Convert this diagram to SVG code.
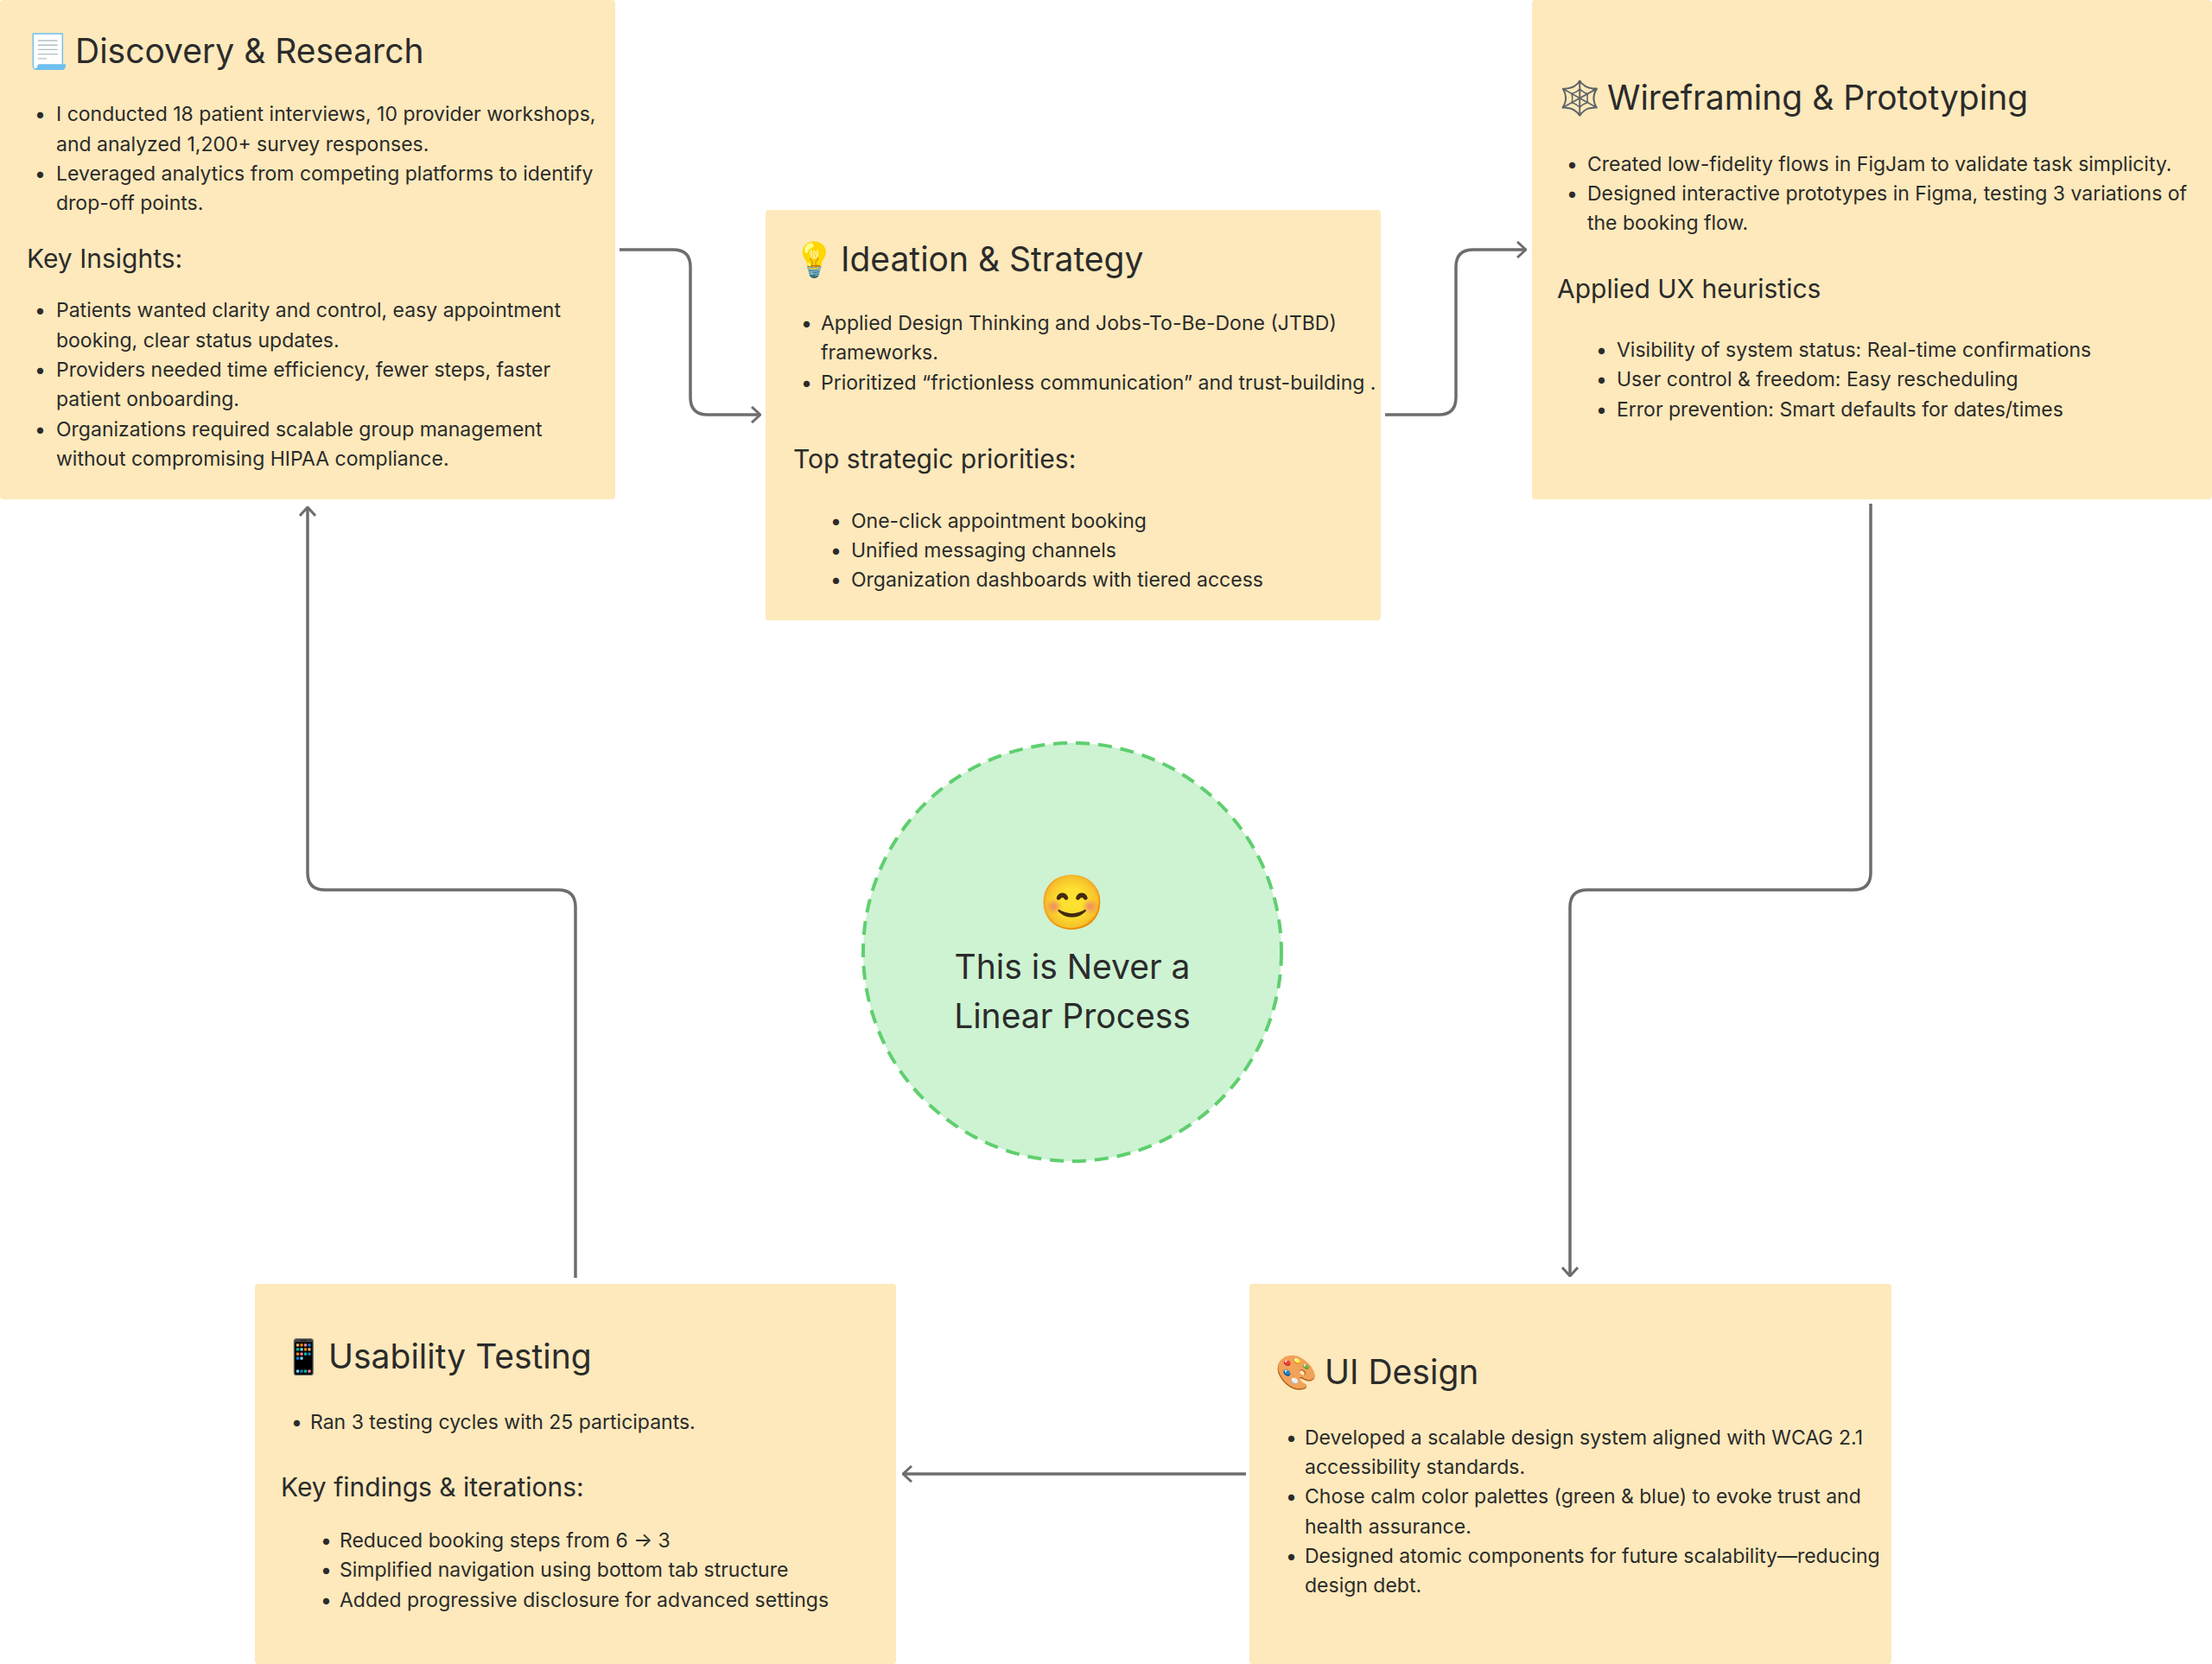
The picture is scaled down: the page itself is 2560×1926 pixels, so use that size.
<svg xmlns="http://www.w3.org/2000/svg" width="2560" height="1926" viewBox="0 0 2560 1926">
<style>
.box{fill:#fde9bb}
text{font-family:Inter,"Noto Sans",sans-serif;fill:#2b2b2b}
.t{font-size:39px}
.h{font-size:30px}
.b{font-size:23px}
.e{font-family:"Noto Color Emoji","Noto Sans",sans-serif}
.c{fill:none;stroke:#6d6d70;stroke-width:3.5}
</style>
<defs>
<marker id="a" viewBox="0 0 12 20" refX="11" refY="10" markerWidth="12" markerHeight="20" markerUnits="userSpaceOnUse" orient="auto">
<path d="M1,1 L11,10 L1,19" fill="none" stroke="#6d6d70" stroke-width="3"/>
</marker>
</defs>
<rect width="2560" height="1926" fill="#fff"/>
<g id="connectors">
<path class="c" marker-end="url(#a)" d="M717,289 H779 Q799,289 799,309 V460 Q799,480 819,480 H880"/>
<path class="c" marker-end="url(#a)" d="M1603,480 H1665 Q1685,480 1685,460 V309 Q1685,289 1705,289 H1766"/>
<path class="c" marker-end="url(#a)" d="M2165,583 V1010 Q2165,1030 2145,1030 H1837 Q1817,1030 1817,1050 V1477"/>
<path class="c" marker-end="url(#a)" d="M1442,1706 H1045"/>
<path class="c" marker-end="url(#a)" d="M666,1479 V1050 Q666,1030 646,1030 H376 Q356,1030 356,1010 V587"/>
</g>
<g id="discovery">
<rect class="box" x="0" y="0" width="712" height="578" rx="4"/>
<text class="t e" x="31" y="73">📃</text>
<text class="t" x="87" y="73">Discovery &amp; Research</text>
<text class="b" x="40" y="140">•</text><text class="b" x="65" y="140">I conducted 18 patient interviews, 10 provider workshops,</text>
<text class="b" x="65" y="175">and analyzed 1,200+ survey responses.</text>
<text class="b" x="40" y="209">•</text><text class="b" x="65" y="209">Leveraged analytics from competing platforms to identify</text>
<text class="b" x="65" y="243">drop-off points.</text>
<text class="h" x="31" y="310">Key Insights:</text>
<text class="b" x="40" y="367">•</text><text class="b" x="65" y="367">Patients wanted clarity and control, easy appointment</text>
<text class="b" x="65" y="402">booking, clear status updates.</text>
<text class="b" x="40" y="436">•</text><text class="b" x="65" y="436">Providers needed time efficiency, fewer steps, faster</text>
<text class="b" x="65" y="470">patient onboarding.</text>
<text class="b" x="40" y="505">•</text><text class="b" x="65" y="505">Organizations required scalable group management</text>
<text class="b" x="65" y="539">without compromising HIPAA compliance.</text>
</g>
<g id="ideation">
<rect class="box" x="886" y="243" width="712" height="475" rx="4"/>
<text class="t e" x="918" y="314">💡</text>
<text class="t" x="973" y="314">Ideation &amp; Strategy</text>
<text class="b" x="927" y="382">•</text><text class="b" x="950" y="382">Applied Design Thinking and Jobs-To-Be-Done (JTBD)</text>
<text class="b" x="950" y="416">frameworks.</text>
<text class="b" x="927" y="451">•</text><text class="b" x="950" y="451">Prioritized “frictionless communication” and trust-building .</text>
<text class="h" x="918" y="542">Top strategic priorities:</text>
<text class="b" x="961" y="611">•</text><text class="b" x="985" y="611">One-click appointment booking</text>
<text class="b" x="961" y="645">•</text><text class="b" x="985" y="645">Unified messaging channels</text>
<text class="b" x="961" y="679">•</text><text class="b" x="985" y="679">Organization dashboards with tiered access</text>
</g>
<g id="wireframing">
<rect class="box" x="1773" y="0" width="787" height="578" rx="4"/>
<text class="t e" x="1804" y="127">🕸️</text>
<text class="t" x="1860" y="127">Wireframing &amp; Prototyping</text>
<text class="b" x="1813" y="198">•</text><text class="b" x="1837" y="198">Created low-fidelity flows in FigJam to validate task simplicity.</text>
<text class="b" x="1813" y="232">•</text><text class="b" x="1837" y="232">Designed interactive prototypes in Figma, testing 3 variations of</text>
<text class="b" x="1837" y="266">the booking flow.</text>
<text class="h" x="1802" y="345">Applied UX heuristics</text>
<text class="b" x="1847" y="413">•</text><text class="b" x="1871" y="413">Visibility of system status: Real-time confirmations</text>
<text class="b" x="1847" y="447">•</text><text class="b" x="1871" y="447">User control &amp; freedom: Easy rescheduling</text>
<text class="b" x="1847" y="482">•</text><text class="b" x="1871" y="482">Error prevention: Smart defaults for dates/times</text>
</g>
<g id="center">
<circle cx="1241" cy="1102" r="242" fill="#cdf3d2" stroke="#5fcf6f" stroke-width="4" stroke-dasharray="16 10"/>
<text class="e" x="1241" y="1066" font-size="62" text-anchor="middle">😊</text>
<text x="1241" y="1133" font-size="39" text-anchor="middle">This is Never a</text>
<text x="1241" y="1190" font-size="39" text-anchor="middle">Linear Process</text>
</g>
<g id="usability">
<rect class="box" x="295" y="1486" width="742" height="440" rx="4"/>
<text class="t e" x="327" y="1584">📱</text>
<text class="t" x="380" y="1584">Usability Testing</text>
<text class="b" x="337" y="1654">•</text><text class="b" x="359" y="1654">Ran 3 testing cycles with 25 participants.</text>
<text class="h" x="325" y="1732">Key findings &amp; iterations:</text>
<text class="b" x="371" y="1791">•</text><text class="b" x="393" y="1791">Reduced booking steps from 6 → 3</text>
<text class="b" x="371" y="1825">•</text><text class="b" x="393" y="1825">Simplified navigation using bottom tab structure</text>
<text class="b" x="371" y="1860">•</text><text class="b" x="393" y="1860">Added progressive disclosure for advanced settings</text>
</g>
<g id="uidesign">
<rect class="box" x="1446" y="1486" width="743" height="440" rx="4"/>
<text class="t e" x="1476" y="1602">🎨</text>
<text class="t" x="1533" y="1602">UI Design</text>
<text class="b" x="1488" y="1672">•</text><text class="b" x="1510" y="1672">Developed a scalable design system aligned with WCAG 2.1</text>
<text class="b" x="1510" y="1706">accessibility standards.</text>
<text class="b" x="1488" y="1740">•</text><text class="b" x="1510" y="1740">Chose calm color palettes (green &amp; blue) to evoke trust and</text>
<text class="b" x="1510" y="1775">health assurance.</text>
<text class="b" x="1488" y="1809">•</text><text class="b" x="1510" y="1809">Designed atomic components for future scalability—reducing</text>
<text class="b" x="1510" y="1843">design debt.</text>
</g>
</svg>
